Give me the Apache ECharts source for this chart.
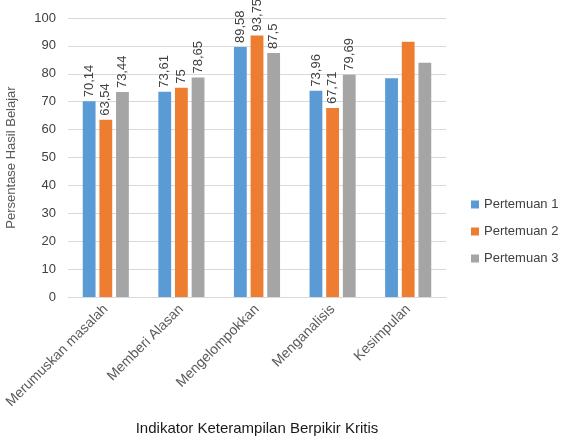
<!DOCTYPE html>
<html><head><meta charset="utf-8">
<script src="https://cdn.jsdelivr.net/npm/echarts@6/dist/echarts.min.js"></script>
<style>html,body{margin:0;padding:0;background:#fff}#c{width:562px;height:437px}</style>
</head><body><div id="c"></div>
<script>
var categories = ['Merumuskan masalah', 'Memberi Alasan', 'Mengelompokkan', 'Menganalisis', 'Kesimpulan'];
var pertemuan1 = [70.14, 73.61, 89.58, 73.96, 78.4];
var pertemuan2 = [63.54, 75, 93.75, 67.71, 91.5];
var pertemuan3 = [73.44, 78.65, 87.5, 79.69, 84];
var labeled = [true, true, true, true, false];
var seriesNames = ['Pertemuan 1', 'Pertemuan 2', 'Pertemuan 3'];
var colors = ['#5B9BD5', '#ED7D31', '#A5A5A5'];
var font = 'Liberation Sans, Arial, sans-serif';

function mk(name, vals, color) {
  return {
    name: name, type: 'bar', barGap: '30%', barCategoryGap: '39%',
    itemStyle: { color: color },
    data: vals.map(function (v, i) {
      return { value: v, label: { show: labeled[i] } };
    }),
    label: {
      position: 'top', rotate: 90, align: 'left', verticalAlign: 'middle', distance: 4,
      color: '#404040', fontSize: 13, fontFamily: font,
      formatter: function (p) { return String(p.value).replace('.', ','); }
    }
  };
}
var chart = echarts.init(document.getElementById('c'));
chart.setOption({
  animation: false,
  textStyle: { fontFamily: font },
  grid: { left: 68, right: 116, top: 18, bottom: 140, outerBoundsMode: 'none', containLabel: false },
  legend: {
    orient: 'vertical', left: 471, top: 198, width: 91, itemWidth: 8, itemHeight: 8, itemGap: 14,
    icon: 'rect', padding: 0,
    textStyle: { color: '#404040', fontSize: 13, fontFamily: font, overflow: 'none', width: 90 },
    data: seriesNames
  },
  xAxis: {
    type: 'category', data: categories,
    axisLine: { lineStyle: { color: '#d9d9d9' } }, axisTick: { show: false },
    axisLabel: { rotate: 45, color: '#595959', fontSize: 14, margin: 10, interval: 0, fontFamily: font },
    name: 'Indikator Keterampilan Berpikir Kritis', nameLocation: 'middle', nameGap: 124,
    nameTextStyle: { color: '#1a1a1a', fontSize: 15, fontFamily: font }
  },
  yAxis: {
    type: 'value', min: 0, max: 100, interval: 10,
    axisLine: { show: false }, axisTick: { show: false },
    splitLine: { lineStyle: { color: '#d9d9d9' } },
    axisLabel: { color: '#404040', fontSize: 13, margin: 12, fontFamily: font },
    name: 'Persentase Hasil Belajar', nameLocation: 'middle', nameGap: 50,
    nameTextStyle: { color: '#595959', fontSize: 13, fontFamily: font }
  },
  series: [mk(seriesNames[0], pertemuan1, colors[0]), mk(seriesNames[1], pertemuan2, colors[1]), mk(seriesNames[2], pertemuan3, colors[2])]
});
</script></body></html>
